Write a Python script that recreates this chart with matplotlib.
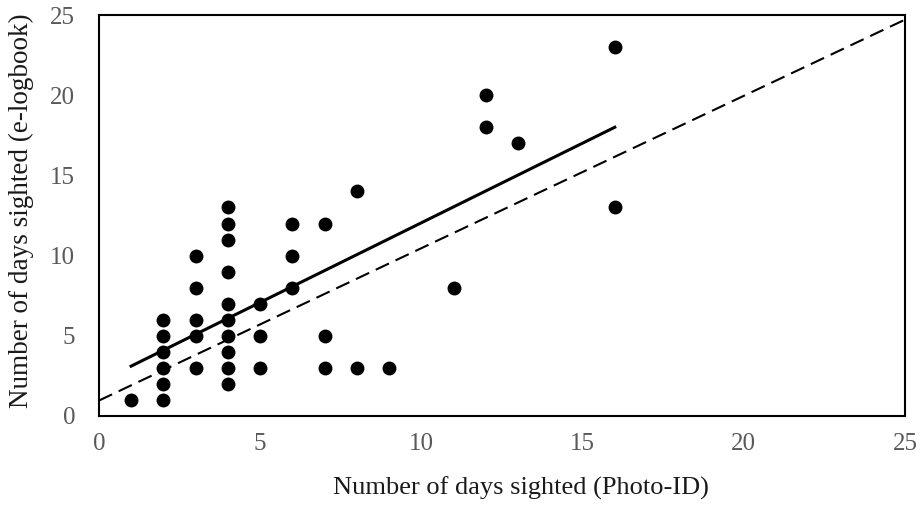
import numpy as np
import matplotlib
matplotlib.use("Agg")
import matplotlib.pyplot as plt

# sightings per individual: photo-ID days vs e-logbook days
photo_id = [1,
            2, 2, 2, 2, 2, 2,
            3, 3, 3, 3, 3,
            4, 4, 4, 4, 4, 4, 4, 4, 4, 4,
            5, 5, 5,
            6, 6, 6,
            7, 7, 7,
            8, 8,
            9,
            11,
            12, 12,
            13,
            16, 16]
logbook = [1,
           1, 2, 3, 4, 5, 6,
           3, 5, 6, 8, 10,
           2, 3, 4, 5, 6, 7, 9, 11, 12, 13,
           3, 5, 7,
           8, 10, 12,
           3, 5, 12,
           3, 14,
           3,
           8,
           18, 20,
           17,
           13, 23]

# reference line (dashed) coefficients
ref_slope = 0.95
ref_intercept = 0.96

x_ticks = [0, 5, 10, 15, 20, 25]
y_ticks = [0, 5, 10, 15, 20, 25]

plt.rcParams['font.family'] = ['Liberation Serif', 'DejaVu Serif']

x = np.array(photo_id, dtype=float)
y = np.array(logbook, dtype=float)
slope, intercept = np.polyfit(x, y, 1)

fig = plt.figure(figsize=(9.24, 5.07), dpi=100)
ax = fig.add_axes([0.107, 0.1795, 0.8724, 0.7909])

ax.plot(x, y, "o", color="black", markersize=9, zorder=3)

fit_x = np.array([x.min(), x.max()])
ax.plot(fit_x, slope * fit_x + intercept, color="black", lw=2.2, zorder=2)

ref_x = np.array([0, 25])
ax.plot(ref_x, ref_slope * ref_x + ref_intercept, color="black", lw=1.5,
        dashes=(7, 3.5), zorder=2)

ax.set_xlim(0, 25)
ax.set_ylim(0, 25)
ax.set_xticks(x_ticks)
ax.set_yticks(y_ticks)
ax.tick_params(length=0, labelsize=18, labelcolor="#595959")
ax.tick_params(axis="x", pad=12)
ax.tick_params(axis="y", pad=17)
for s in ax.spines.values():
    s.set_linewidth(1.5)

ax.set_xlabel("Number of days sighted (Photo-ID)", fontsize=19, color="#1a1a1a")
ax.set_ylabel("Number of days sighted (e-logbook)", fontsize=19.5, color="#1a1a1a")
ax.xaxis.set_label_coords(0.523, -0.15)
ax.yaxis.set_label_coords(-0.081, 0.513)

fig.savefig("out.png", dpi=100)
